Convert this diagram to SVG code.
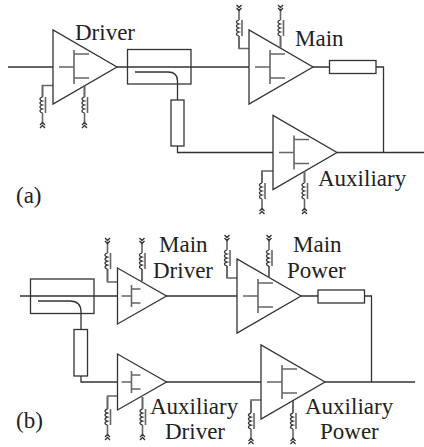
<svg xmlns="http://www.w3.org/2000/svg" width="424" height="447" viewBox="0 0 424 447">
<style>
.l{fill:none;stroke:#333;stroke-width:1.3}
.g{fill:none;stroke:#666;stroke-width:1.6}
.t{font-family:"Liberation Serif","Times New Roman",serif;font-size:23px;fill:#222}
</style>
<defs>
<g id="choke">
<path class="g" d="M0-12V0"/>
<path class="l" d="M0 0c-3.500 1-3.500 3 0 4c-3.500 1-3.500 3 0 4c-3.500 1-3.500 3 0 4c-3.500 1-3.500 3 0 4"/>
<path class="g" d="M3 0V16M0 16V27"/>
<path class="l" d="M-2.500 31L0 28.500L2.500 31M-2.500 28L0 25.500L2.500 28"/>
</g>
<g id="amp">
<path class="l" d="M0-37V37L64 0Z"/>
<path class="g" d="M6 0H21M21-17V17M21-13H36M21 11H36"/>
</g>
<g id="ampS">
<path class="l" d="M0-28V28L49 0Z"/>
<path class="g" d="M4 0H14M14-11V11M14-7H23M14 7H23"/>
</g>
</defs>
<g id="connectors">
<path class="l" d="M8 67H53M117 67H249M135 72H168Q177.500 72 177.500 81V100M177.500 146V152.500H273M313 67H329.500M376 67H383.500V152.500M337 152.500H424"/>
<path class="g" d="M53 85.500H42.500V97M84.500 85V97M249 48.500H239V36M280.500 48V36M273 171H262V183M304.500 171V183"/>
<path class="l" d="M20 296H117.500M38 301H70Q81 301 81 312V329.500M81 376V382H117.500M166 296H237M301 296H318M364.500 296H371.500V382M166 382H261M325 382H415"/>
<path class="g" d="M117.500 282H107.500V269M142 281V269M237 278H227V266M269 277V266M117.500 396H107.500V409M142.500 397V409M261 400H251V413M293 400V413"/>
</g>
<g id="driver"><use href="#amp" x="53" y="67"/><use href="#choke" x="42.500" y="97"/><use href="#choke" x="84.500" y="97"/><text class="t" x="75" y="40">Driver</text></g>
<g id="coupler-a"><rect class="l" x="127.500" y="49.500" width="63.500" height="34.500"/></g>
<g id="line-a1"><rect class="l" x="171" y="100" width="13" height="46"/></g>
<g id="main"><use href="#amp" x="249" y="67"/><use href="#choke" transform="translate(239 36) scale(1 -1)"/><use href="#choke" transform="translate(280.500 36) scale(1 -1)"/><text class="t" x="295" y="46">Main</text></g>
<g id="line-a2"><rect class="l" x="329.500" y="60.500" width="46.500" height="13"/></g>
<g id="auxiliary"><use href="#amp" x="273" y="152.500"/><use href="#choke" x="262" y="183"/><use href="#choke" x="304.500" y="183"/><text class="t" x="318" y="186">Auxiliary</text></g>
<text class="t" id="label-a" x="16" y="203">(a)</text>
<g id="coupler-b"><rect class="l" x="30.500" y="279" width="63.500" height="34.500"/></g>
<g id="line-b1"><rect class="l" x="74" y="329.500" width="13.500" height="46.500"/></g>
<g id="main-driver"><use href="#ampS" x="117.500" y="296"/><use href="#choke" transform="translate(107.500 269) scale(1 -1)"/><use href="#choke" transform="translate(142 269) scale(1 -1)"/><text class="t" x="159" y="252">Main</text><text class="t" x="153" y="278">Driver</text></g>
<g id="main-power"><use href="#amp" x="237" y="296"/><use href="#choke" transform="translate(227 266) scale(1 -1)"/><use href="#choke" transform="translate(269 266) scale(1 -1)"/><text class="t" x="293" y="252">Main</text><text class="t" x="287" y="278">Power</text></g>
<g id="line-b2"><rect class="l" x="318" y="290" width="46.500" height="13"/></g>
<g id="aux-driver"><use href="#ampS" x="117.500" y="382"/><use href="#choke" x="107.500" y="409"/><use href="#choke" x="142.500" y="409"/><text class="t" x="150" y="414">Auxiliary</text><text class="t" x="165" y="439">Driver</text></g>
<g id="aux-power"><use href="#amp" x="261" y="382"/><use href="#choke" x="251" y="413"/><use href="#choke" x="293" y="413"/><text class="t" x="305" y="414">Auxiliary</text><text class="t" x="320" y="439">Power</text></g>
<text class="t" id="label-b" x="16" y="428">(b)</text>
</svg>
